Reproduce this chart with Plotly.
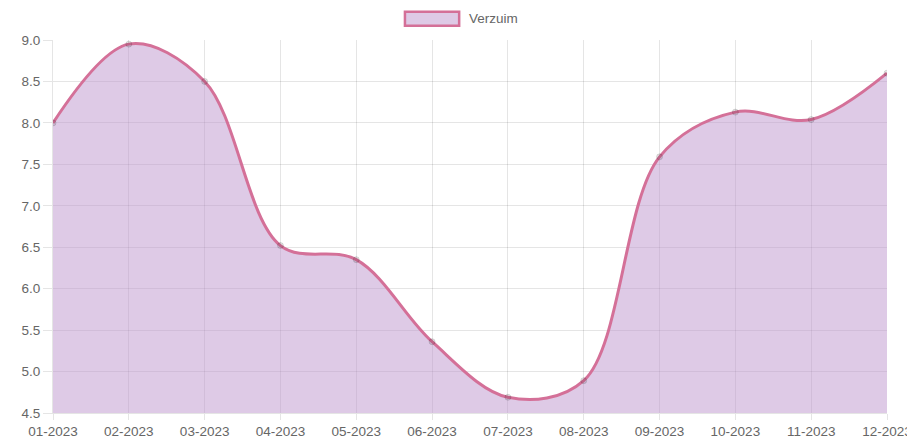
import plotly.graph_objects as go

months = ["01-2023", "02-2023", "03-2023", "04-2023", "05-2023", "06-2023",
          "07-2023", "08-2023", "09-2023", "10-2023", "11-2023", "12-2023"]
verzuim = [8.0, 8.95, 8.5, 6.52, 6.35, 5.36, 4.69, 4.89, 7.59, 8.13, 8.04, 8.6]
y_ticks = [4.5, 5.0, 5.5, 6.0, 6.5, 7.0, 7.5, 8.0, 8.5, 9.0]
series_name = "Verzuim"

LINE = "rgb(212,112,152)"
FILL = "rgba(190,150,205,0.5)"

fig = go.Figure()
fig.add_trace(go.Scatter(
    x=months, y=verzuim, name=series_name, showlegend=False,
    mode="lines+markers",
    line=dict(color=LINE, width=3, shape="spline", smoothing=1.0),
    marker=dict(size=6, color="rgba(0,0,0,0.1)", line=dict(color="rgba(0,0,0,0.12)", width=1)),
    fill="tozeroy", fillcolor=FILL,
))

# Chart.js-style legend box + label
fig.add_shape(type="rect", xref="paper", yref="paper",
              x0=0.422, x1=0.487, y0=1.038, y1=1.076,
              line=dict(color=LINE, width=2.5), fillcolor="rgb(222,202,230)")
fig.add_annotation(text=series_name, xref="paper", yref="paper",
                   x=0.496, y=1.058, xanchor="left", yanchor="middle",
                   showarrow=False, font=dict(size=13.5, color="#666"))

fig.update_layout(
    width=907, height=435,
    margin=dict(l=45, r=28, t=32, b=30, autoexpand=False),
    paper_bgcolor="white", plot_bgcolor="white",
    font=dict(family="Liberation Sans, Arial, sans-serif", size=13.5, color="#666"),
    showlegend=False,
    xaxis=dict(type="category", range=[0, 11], showgrid=True, automargin=False,
               gridcolor="rgba(0,0,0,0.1)", zeroline=False,
               ticks="outside", ticklen=6, tickcolor="rgba(0,0,0,0.1)",
               showline=True, linecolor="rgba(0,0,0,0.1)"),
    yaxis=dict(range=[4.5, 9.0], tickvals=y_ticks, automargin=False,
               ticktext=[f"{v:.1f}" for v in y_ticks],
               showgrid=True, gridcolor="rgba(0,0,0,0.1)", zeroline=False,
               ticks="outside", ticklen=9, tickcolor="rgba(0,0,0,0.1)",
               showline=True, linecolor="rgba(0,0,0,0.1)"),
)

fig.write_html("out.html")
